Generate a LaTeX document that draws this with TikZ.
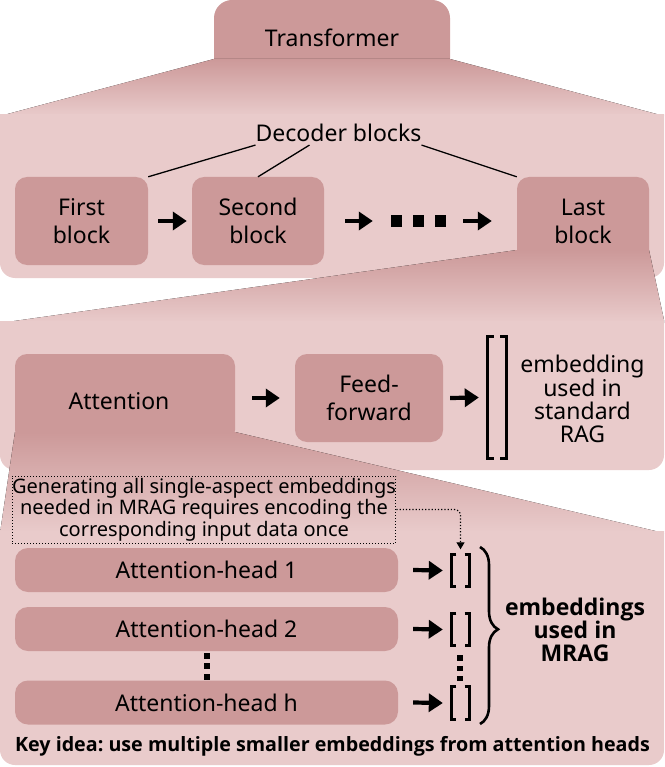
\documentclass[tikz,border=0pt]{standalone}
\usepackage{fontspec}
\setmainfont{Noto Sans}
\newfontfamily\boldsans{Open Sans}
\usetikzlibrary{arrows.meta,decorations.pathreplacing}
\definecolor{boxdark}{RGB}{204,153,153}
\definecolor{panellight}{RGB}{233,203,203}
\frenchspacing
\begin{document}
\begin{tikzpicture}[x=1pt,y=-1pt,
  box/.style={fill=boxdark, rounded corners=12pt, inner sep=0pt, align=center, font=\fontsize{23}{28}\selectfont},
  plain/.style={inner sep=0pt, align=center},
  arr/.style={line width=4.2pt, -{Triangle[length=14pt,width=18pt]}},
  brk/.style={line width=3.2pt},
  funnel/.style={top color=boxdark, bottom color=panellight},
  holder/.style={inner sep=0pt}]
\useasboundingbox (0,0) rectangle (664,767);

% ---------- level 1 ----------
\node[box, rounded corners=18pt, minimum width=236pt, minimum height=76pt] (tr) at (332,38) {Transformer};
\fill[funnel] (214,59) -- (0,116) -- (664,116) -- (450,59) -- cycle;
\begin{scope}
  \clip (0,115) rectangle (664,767);
  \fill[panellight, rounded corners=15pt] (0,90) rectangle (664,278);
\end{scope}

\node[box, minimum width=133pt, minimum height=88pt] (first) at (81.5,221) {First\\block};
\node[box, minimum width=132pt, minimum height=88pt] (second) at (258,221) {Second\\block};
\node[box, minimum width=132pt, minimum height=88pt] (last) at (583,221) {Last\\block};

\node[plain, font=\fontsize{23}{28}\selectfont] (dec) at (338.5,133) {Decoder blocks};
\draw[line width=1.3pt] ([yshift=-3pt]dec.south west) -- (first.north east);
\draw[line width=1.3pt] ([xshift=-29pt,yshift=-3pt]dec.south) -- (second.north);
\draw[line width=1.3pt] ([yshift=-3pt]dec.south east) -- (last.north west);

\node[holder, minimum width=55pt, minimum height=12pt] (dots) at (418.5,221) {};
\fill (391,215) rectangle (402,227);
\fill (413,215) rectangle (424,227);
\fill (435,215) rectangle (446,227);
\draw[arr] ([xshift=10pt]first.east) -- ([xshift=-5pt]second.west);
\draw[arr] ([xshift=21pt]second.east) -- ([xshift=-18pt]dots.west);
\draw[arr] ([xshift=17pt]dots.east) -- ([xshift=-25pt]last.west);

% ---------- level 2 ----------
\fill[funnel] (517,250) -- (0,323) -- (664,323) -- (664,320) -- (649,250) -- cycle;
\begin{scope}
  \clip (0,321) rectangle (664,767);
  \fill[panellight, rounded corners=15pt] (0,300) rectangle (664,470);
\end{scope}

\node[box, minimum width=220pt, minimum height=88pt] (att) at (125,398) {};
\node[plain, font=\fontsize{23}{28}\selectfont] (attlbl) at (119,401) {Attention};
\node[box, minimum width=148pt, minimum height=88pt] (ff) at (369,398) {Feed-\\forward};
\node[holder, minimum width=18pt, minimum height=121pt] (emb) at (497,397.5) {};
\draw[brk] ([xshift=6pt]emb.north west) -- (emb.north west) -- (emb.south west) -- ([xshift=6pt]emb.south west);
\draw[brk] ([xshift=-6pt]emb.north east) -- (emb.north east) -- (emb.south east) -- ([xshift=-6pt]emb.south east);
\draw[arr] ([xshift=17pt]att.east) -- ([xshift=-15pt]ff.west);
\draw[arr] ([xshift=7pt]ff.east) -- ([xshift=-9pt]emb.west);
\node[plain, font=\fontsize{23}{22.7}\selectfont] (embt) at (582.5,399) {embedding\\used in\\standard\\RAG};

% ---------- level 3 ----------
\fill[funnel] (15,432) -- (0,533) -- (664,533) -- (235,432) -- cycle;
\begin{scope}
  \clip (0,531) rectangle (664,767);
  \fill[panellight, rounded corners=15pt] (0,510) rectangle (664,765);
\end{scope}

\node[draw, dotted, line width=1pt, minimum width=382pt, minimum height=67pt, plain, font=\fontsize{20}{21.7}\selectfont] (note) at (204,509.5) {Generating all single-aspect embeddings\\needed in MRAG requires encoding the\\corresponding input data once};

\node[box, rounded corners=13pt, minimum width=383pt, minimum height=44pt] (h1) at (206.5,570) {Attention-head 1};
\node[box, rounded corners=13pt, minimum width=383pt, minimum height=44pt] (h2) at (206.5,629) {Attention-head 2};
\node[box, rounded corners=13pt, minimum width=383pt, minimum height=44pt] (hh) at (206.5,702.5) {Attention-head h};

\node[holder, minimum width=6pt, minimum height=27pt] (hdots) at (206.5,666) {};
\fill (203.5,652.5) rectangle (209.5,658.5);
\fill (203.5,663) rectangle (209.5,669);
\fill (203.5,673.5) rectangle (209.5,679.5);

\node[holder, minimum width=17pt, minimum height=32pt] (b1) at (460.5,570.5) {};
\node[holder, minimum width=17pt, minimum height=32pt] (b2) at (460.5,629.5) {};
\node[holder, minimum width=17pt, minimum height=32pt] (bh) at (460.5,703) {};
\foreach \b in {b1,b2,bh}{
  \draw[brk] ([xshift=4.5pt]\b.north west) -- (\b.north west) -- (\b.south west) -- ([xshift=4.5pt]\b.south west);
  \draw[brk] ([xshift=-4.5pt]\b.north east) -- (\b.north east) -- (\b.south east) -- ([xshift=-4.5pt]\b.south east);
}
\fill (457,655) rectangle (463,660.5);
\fill (457,665.5) rectangle (463,671);
\fill (457,675.5) rectangle (463,681);

\draw[arr] ([xshift=15pt]h1.east) -- ([xshift=-9pt]b1.west);
\draw[arr] ([xshift=15pt]h2.east) -- ([xshift=-9pt]b2.west);
\draw[arr] ([xshift=15pt]hh.east) -- ([xshift=-9pt]bh.west);

\draw[dotted, line width=1.2pt, rounded corners=6pt, -{Triangle[length=7pt,width=8pt]}] (note.east) -| ([yshift=5pt]b1.north);

\draw[line width=2.6pt, decorate, decoration={brace, amplitude=18pt, aspect=0.465}] (480,547) -- (480,724);
\node[plain, font=\boldsans\bfseries\fontsize{23}{23}\selectfont] (mrag) at (575,630) {embeddings\\used in\\MRAG};

\node[plain, font=\boldsans\bfseries\fontsize{19.7}{22}\selectfont] (key) at (332.5,746) {Key idea: use multiple smaller embeddings from attention heads};
\end{tikzpicture}
\end{document}
